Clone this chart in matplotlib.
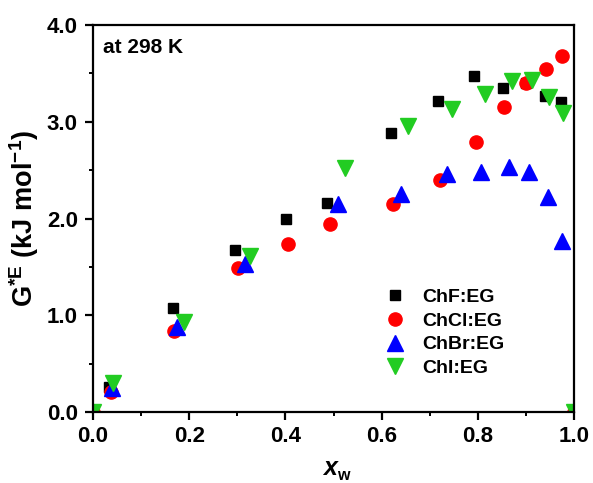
import matplotlib
matplotlib.use("Agg")
import matplotlib.pyplot as plt
from matplotlib.ticker import MultipleLocator, FormatStrFormatter

plt.rcParams['font.family'] = ['Liberation Sans', 'DejaVu Sans']
plt.rcParams['font.weight'] = 'bold'
plt.rcParams['mathtext.fontset'] = 'custom'
plt.rcParams['mathtext.rm'] = 'Liberation Sans:bold'
plt.rcParams['mathtext.bf'] = 'Liberation Sans:bold'
plt.rcParams['mathtext.it'] = 'Liberation Sans:bold:italic'
plt.rcParams['mathtext.default'] = 'bf'

chf_x = [0.0, 0.033, 0.167, 0.296, 0.401, 0.486, 0.620, 0.717, 0.792, 0.852, 0.900, 0.940, 0.973, 1.0]
chf_y = [0.0, 0.26, 1.08, 1.68, 2.00, 2.16, 2.88, 3.22, 3.47, 3.35, 3.40, 3.27, 3.20, 0.0]

chcl_x = [0.0, 0.037, 0.169, 0.301, 0.406, 0.493, 0.624, 0.721, 0.796, 0.854, 0.900, 0.941, 0.974, 1.0]
chcl_y = [0.0, 0.21, 0.84, 1.49, 1.74, 1.94, 2.15, 2.40, 2.79, 3.15, 3.40, 3.55, 3.68, 0.0]

chbr_x = [0.0, 0.039, 0.174, 0.315, 0.509, 0.640, 0.735, 0.807, 0.864, 0.907, 0.945, 0.976, 1.0]
chbr_y = [0.0, 0.25, 0.88, 1.53, 2.15, 2.25, 2.46, 2.48, 2.53, 2.48, 2.22, 1.77, 0.0]

chi_x = [0.0, 0.042, 0.188, 0.326, 0.524, 0.654, 0.746, 0.815, 0.870, 0.912, 0.947, 0.978, 1.0]
chi_y = [0.0, 0.30, 0.93, 1.61, 2.52, 2.96, 3.13, 3.29, 3.42, 3.43, 3.26, 3.09, 0.0]

fig = plt.figure(figsize=(5.93, 4.83), dpi=100)
ax = fig.add_axes([0.157, 0.147, 0.811, 0.801])

ax.plot(chf_x, chf_y, 's', color='black', markersize=7.5, linestyle='none', label='ChF:EG')
ax.plot(chcl_x, chcl_y, 'o', color='#ff0000', markersize=9.5, linestyle='none', label='ChCl:EG')
ax.plot(chbr_x, chbr_y, '^', color='#0000ff', markersize=11, linestyle='none', label='ChBr:EG')
ax.plot(chi_x, chi_y, 'v', color='#22cc22', markersize=11, linestyle='none', label='ChI:EG')

ax.set_xlim(0, 1.0)
ax.set_ylim(0, 4.0)
ax.xaxis.set_major_locator(MultipleLocator(0.2))
ax.xaxis.set_minor_locator(MultipleLocator(0.1))
ax.yaxis.set_major_locator(MultipleLocator(1.0))
ax.yaxis.set_minor_locator(MultipleLocator(0.5))
ax.xaxis.set_major_formatter(FormatStrFormatter('%.1f'))
ax.yaxis.set_major_formatter(FormatStrFormatter('%.1f'))

for s in ax.spines.values():
    s.set_linewidth(1.6)
ax.tick_params(which='major', direction='out', length=6, width=1.6, labelsize=16)
ax.tick_params(axis='x', which='major', pad=4)
ax.tick_params(axis='y', which='major', pad=5)
ax.tick_params(which='minor', direction='out', length=3, width=1.4)
for lab in ax.get_xticklabels() + ax.get_yticklabels():
    lab.set_fontweight('bold')

fig.text(337 / 593, 8 / 483, 'x', fontsize=18, fontweight='bold', fontstyle='italic', ha='right', va='baseline')
fig.text(337 / 593, 3 / 483, 'w', fontsize=11.5, fontweight='bold', ha='left', va='baseline')

ax.set_ylabel(r'G$^{*E}$ (kJ mol$^{-1}$)', fontsize=19.5, fontweight='bold', labelpad=4)

ax.text(0.02, 0.928, 'at 298 K', transform=ax.transAxes, fontsize=15, fontweight='bold', va='baseline', ha='left')

leg = ax.legend(loc='lower left', bbox_to_anchor=(0.604, 0.09), frameon=False, fontsize=14,
                handletextpad=0.78, labelspacing=0.32, handlelength=1.2, borderaxespad=0, borderpad=0)
for t in leg.get_texts():
    t.set_fontweight('bold')

fig.savefig('out.png', dpi=100)
